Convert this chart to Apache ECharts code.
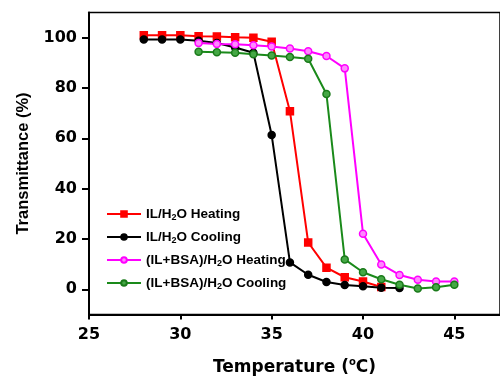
<!DOCTYPE html>
<html>
<head>
<meta charset="utf-8">
<script src="https://cdn.jsdelivr.net/npm/echarts@6/dist/echarts.min.js"></script>
<style>
  html, body { margin: 0; padding: 0; background: #fff; }
  #chart { width: 500px; height: 381px; }
</style>
</head>
<body>
<div id="chart"></div>
<script>
// temperatures (°C) and transmittance (%)
const ilHeatT = [28, 29, 30, 31, 32, 33, 34, 35, 36, 37, 38, 39, 40, 41];
const ilHeatV = [101, 101, 101, 100.6, 100.5, 100.2, 100, 98.4, 70.8, 18.6, 8.6, 4.8, 3.1, 0.9];

const ilCoolT = [28, 29, 30, 31, 32, 33, 34, 35, 36, 37, 38, 39, 40, 41, 42];
const ilCoolV = [99.3, 99.3, 99.3, 98.8, 97.9, 96.1, 94, 61.3, 10.7, 5.8, 2.9, 1.7, 1.2, 0.6, 0.5];

const bsaHeatT = [31, 32, 33, 34, 35, 36, 37, 38, 39, 40, 41, 42, 43, 44, 45];
const bsaHeatV = [97.9, 97.5, 97.4, 97, 96.5, 95.7, 94.6, 92.7, 87.8, 22.1, 9.9, 5.7, 3.8, 3.1, 3.1];

const bsaCoolT = [31, 32, 33, 34, 35, 36, 37, 38, 39, 40, 41, 42, 43, 44, 45];
const bsaCoolV = [94.4, 94.2, 94, 93.4, 92.9, 92.3, 91.6, 77.6, 11.9, 6.8, 4, 1.8, 0.3, 0.8, 1.8];

const xTicks = [25, 30, 35, 40, 45];
const yTicks = [0, 20, 40, 60, 80, 100];

const seriesNames = ['IL/H2O Heating', 'IL/H2O Cooling', '(IL+BSA)/H2O Heating', '(IL+BSA)/H2O Cooling'];

function pairs(xs, ys) {
  return xs.map((x, i) => [x, ys[i]]);
}

const chart = echarts.init(document.getElementById('chart'));
const font = 'Liberation Sans, Arial, sans-serif';
const wide = 'DejaVu Sans, sans-serif';

function makeLine(name, xs, ys, color, symbol, fill, border) {
  return {
    name: name,
    type: 'line',
    data: pairs(xs, ys),
    symbol: symbol,
    symbolSize: 7,
    lineStyle: { color: color, width: 2 },
    itemStyle: { color: fill, borderColor: border, borderWidth: 1.5 },
    z: 3
  };
}

const option = {
  animation: false,
  backgroundColor: '#fff',
  grid: {
    left: 89, right: -5, top: 12.5, bottom: 62.5,
    show: true, borderColor: '#000', borderWidth: 1.5
  },
  legend: {
    orient: 'vertical',
    left: 101, top: 201,
    itemWidth: 34, itemHeight: 7, itemGap: 7,
    data: seriesNames,
    formatter: function (n) {
      const i = n.indexOf('H2O');
      return '{n|' + n.slice(0, i + 1) + '}{s|2}{n|' + n.slice(i + 2) + '}';
    },
    textStyle: {
      rich: {
        n: { fontFamily: font, fontWeight: 'bold', fontSize: 13.5, color: '#000', lineHeight: 16 },
        s: { fontFamily: font, fontWeight: 'bold', fontSize: 9, color: '#000', lineHeight: 9, padding: [7, 0, 0, 0] }
      }
    }
  },
  xAxis: {
    type: 'value', min: 25, max: 47.5,
    name: '{a|Temperature (}{sup|o}{a|C)}',
    nameLocation: 'middle', nameGap: 43,
    nameTextStyle: {
      rich: {
        a: { fontFamily: wide, fontWeight: 'bold', fontSize: 17, color: '#000' },
        sup: { fontFamily: wide, fontWeight: 'bold', fontSize: 10, color: '#000', padding: [0, 0, 10, 0] }
      }
    },
    axisLine: { onZero: false, lineStyle: { color: '#000', width: 2 } },
    axisTick: { show: true, customValues: xTicks, length: 5, inside: false, lineStyle: { width: 2 } },
    axisLabel: { customValues: xTicks, fontFamily: wide, fontWeight: 'bold', fontSize: 16, color: '#000', margin: 12 },
    splitLine: { show: false }
  },
  yAxis: {
    type: 'value', min: -10, max: 110,
    name: 'Transmittance (%)',
    nameLocation: 'middle', nameGap: 57,
    nameTextStyle: { fontFamily: font, fontWeight: 'bold', fontSize: 16.5, color: '#000' },
    axisLine: { onZero: false, lineStyle: { color: '#000', width: 2 } },
    axisTick: { show: true, customValues: yTicks, length: 7, inside: false, lineStyle: { width: 2 } },
    axisLabel: { customValues: yTicks, fontFamily: wide, fontWeight: 'bold', fontSize: 16, color: '#000', margin: 12 },
    splitLine: { show: false }
  },
  series: [
    makeLine(seriesNames[0], ilHeatT, ilHeatV, '#ff0000', 'rect', '#ff0000', '#ff0000'),
    makeLine(seriesNames[1], ilCoolT, ilCoolV, '#000000', 'circle', '#000000', '#000000'),
    makeLine(seriesNames[2], bsaHeatT, bsaHeatV, '#ff00ff', 'circle', '#ff88ff', '#ff00ff'),
    makeLine(seriesNames[3], bsaCoolT, bsaCoolV, '#1a8a1a', 'circle', '#45a845', '#1a7a1a')
  ]
};

chart.setOption(option);
</script>
</body>
</html>
